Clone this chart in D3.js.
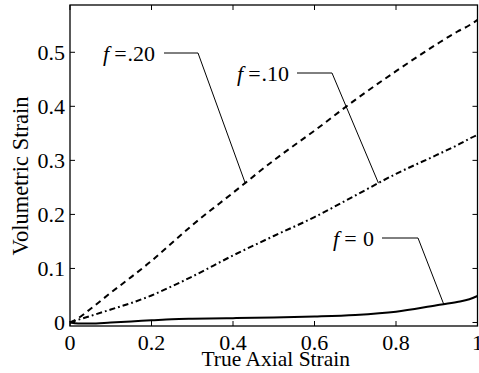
<!DOCTYPE html>
<html><head><meta charset="utf-8">
<script src="https://cdnjs.cloudflare.com/ajax/libs/d3/7.8.5/d3.min.js"></script>
<style>body{margin:0;background:#fff}svg{display:block}text{font-family:"Liberation Serif","Times New Roman",serif;fill:#000}</style>
</head><body><svg id="c" width="479" height="373"></svg>
<script>
const xs = [0, 0.02, 0.05, 0.1, 0.15, 0.2, 0.25, 0.3, 0.4, 0.5, 0.6, 0.7, 0.8, 0.9, 0.95, 0.98, 1.0];
const f20 = [0, 0.008, 0.025, 0.055, 0.084, 0.114, 0.147, 0.18, 0.24, 0.30, 0.355, 0.412, 0.465, 0.515, 0.538, 0.55, 0.56];
const f10 = [0, 0.005, 0.012, 0.024, 0.036, 0.05, 0.067, 0.085, 0.124, 0.16, 0.195, 0.235, 0.275, 0.31, 0.328, 0.34, 0.347];
const f0  = [0, -0.002, -0.002, 0.0, 0.002, 0.004, 0.006, 0.007, 0.008, 0.009, 0.011, 0.014, 0.02, 0.032, 0.038, 0.043, 0.049];
const xTicks = [0, 0.2, 0.4, 0.6, 0.8, 1];
const xTickLabels = ["0", "0.2", "0.4", "0.6", "0.8", "1"];
const yTicks = [0, 0.1, 0.2, 0.3, 0.4, 0.5];
const yTickLabels = ["0", "0.1", "0.2", "0.3", "0.4", "0.5"];
const labels = [
  {txt: ".20", at: 0.43, series: "f20", tx: 103, ty: 53, hx1: 164, hx2: 198},
  {txt: ".10", at: 0.757, series: "f10", tx: 237, ty: 73, hx1: 297, hx2: 332},
  {txt: " 0", at: 0.917, series: "f0", tx: 333, ty: 238, hx1: 382, hx2: 418}
];

const svg = d3.select("#c");
const L = 70, R = 477.5, T = 5, B = 326;
const x = d3.scaleLinear().domain([0, 1]).range([L, R]);
const y = d3.scaleLinear().domain([-0.0065, 0.5875]).range([B, T]);
const fs = 22;

const series = {f20, f10, f0};
const line = d3.line().x((d, i) => x(xs[i])).y(d => y(d)).curve(d3.curveMonotoneX);
svg.append("path").attr("d", line(f20)).attr("fill", "none").attr("stroke", "#000")
  .attr("stroke-width", 2).attr("stroke-dasharray", "6,4.5");
svg.append("path").attr("d", line(f10)).attr("fill", "none").attr("stroke", "#000")
  .attr("stroke-width", 2).attr("stroke-dasharray", "6,3,1.8,3");
svg.append("path").attr("d", line(f0)).attr("fill", "none").attr("stroke", "#000")
  .attr("stroke-width", 2);

svg.append("rect").attr("x", L).attr("y", T).attr("width", R - L).attr("height", B - T)
  .attr("fill", "none").attr("stroke", "#000").attr("stroke-width", 1.3);

const tk = 5;
const g = svg.append("g").attr("stroke", "#000").attr("stroke-width", 1);
xTicks.forEach(v => {
  g.append("line").attr("x1", x(v)).attr("x2", x(v)).attr("y1", B).attr("y2", B - tk);
  g.append("line").attr("x1", x(v)).attr("x2", x(v)).attr("y1", T).attr("y2", T + tk);
});
yTicks.forEach(v => {
  g.append("line").attr("x1", L).attr("x2", L + tk).attr("y1", y(v)).attr("y2", y(v));
  g.append("line").attr("x1", R).attr("x2", R - tk).attr("y1", y(v)).attr("y2", y(v));
});
xTicks.forEach((v, i) => {
  svg.append("text").attr("x", x(v)).attr("y", B + 24).attr("text-anchor", "middle")
    .attr("font-size", fs).text(xTickLabels[i]);
});
yTicks.forEach((v, i) => {
  svg.append("text").attr("x", L - 5).attr("y", y(v) + 7.5).attr("text-anchor", "end")
    .attr("font-size", fs).text(yTickLabels[i]);
});
svg.append("text").attr("x", (L + R) / 2 + 2).attr("y", 366).attr("text-anchor", "middle")
  .attr("font-size", 21.5).text("True Axial Strain");
svg.append("text").attr("transform", `translate(28,176) rotate(-90)`)
  .attr("text-anchor", "middle").attr("font-size", 22.5).text("Volumetric Strain");

labels.forEach(lb => {
  const arr = series[lb.series];
  const yv = d3.scaleLinear().domain(xs).range(arr)(lb.at);
  const t = svg.append("text").attr("x", lb.tx).attr("y", lb.ty + 7.5).attr("font-size", fs);
  t.append("tspan").attr("font-style", "italic").text("f");
  t.append("tspan").attr("dx", 5).text("=");
  t.append("tspan").attr("dx", 1).text(lb.txt);
  svg.append("polyline").attr("points",
    `${lb.hx1},${lb.ty} ${lb.hx2},${lb.ty} ${x(lb.at)},${y(yv)}`)
    .attr("fill", "none").attr("stroke", "#000").attr("stroke-width", 1);
});
</script></body></html>
